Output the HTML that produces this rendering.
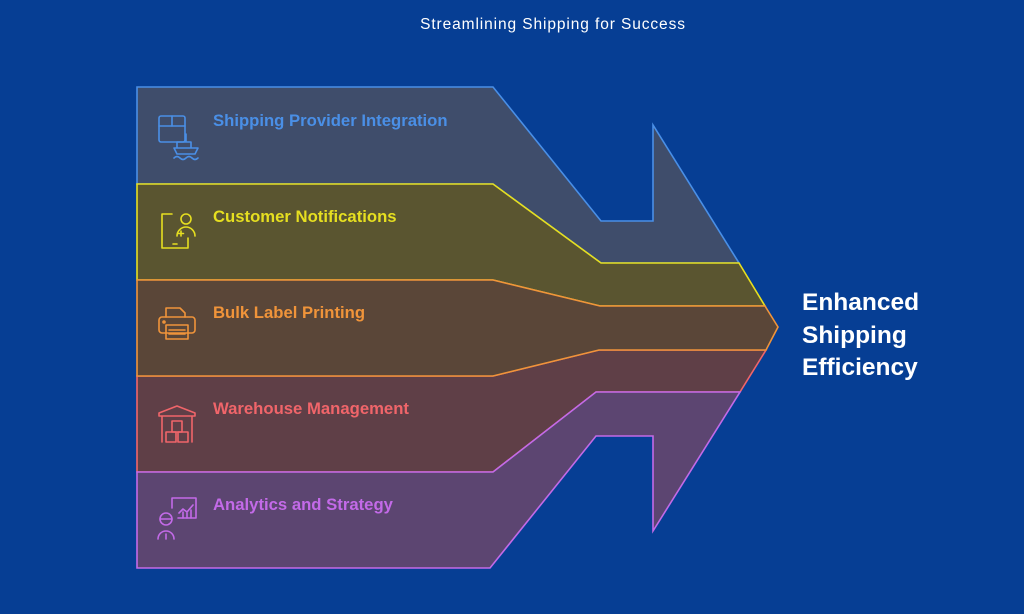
<!DOCTYPE html>
<html><head><meta charset="utf-8"><style>
html,body{margin:0;padding:0;background:#063e94;}
body{width:1024px;height:614px;overflow:hidden;font-family:"Liberation Sans",sans-serif;}
</style></head><body>
<svg width="1024" height="614" viewBox="0 0 1024 614" xmlns="http://www.w3.org/2000/svg" style="display:block">
<rect width="1024" height="614" fill="#063e94"/>
<text x="553" y="29" text-anchor="middle" fill="#fff" font-size="15.5" letter-spacing="0.9" font-family="Liberation Sans, sans-serif">Streamlining Shipping for Success</text>
<g stroke-width="1.6" stroke-linejoin="miter">
<polygon points="137,87 493,87 601,221 653,221 653,125 739,263 601,263 493,184 137,184" fill="#3f4d6b" stroke="#4a8fe6"/>
<polygon points="137,184 493,184 601,263 739,263 765,306 600,306 493,280 137,280" fill="#5a5530" stroke="#e6df20"/>
<polygon points="137,376 493,376 599,350 766,350 740,392 596,392 493,472 137,472" fill="#5f3f47" stroke="#f0656a"/>
<polygon points="137,472 493,472 596,392 740,392 653,531 653,436 596,436 490,568 137,568" fill="#5c4571" stroke="#c36ae8"/>
<polygon points="137,280 493,280 600,306 765,306 778,327 766,350 599,350 493,376 137,376" fill="#5a4638" stroke="#f0943a"/>
</g>
<g font-family="Liberation Sans, sans-serif" font-weight="bold" font-size="16.7">
<text x="213" y="126" fill="#4a8fe6">Shipping Provider Integration</text>
<text x="213" y="222" fill="#e6df20">Customer Notifications</text>
<text x="213" y="318" fill="#f0943a">Bulk Label Printing</text>
<text x="213" y="414" fill="#f0656a">Warehouse Management</text>
<text x="213" y="510" fill="#c36ae8">Analytics and Strategy</text>
</g>
<g font-family="Liberation Sans, sans-serif" font-weight="bold" font-size="24.5" fill="#fff">
<text x="802" y="310">Enhanced</text>
<text x="802" y="343">Shipping</text>
<text x="802" y="375">Efficiency</text>
</g>
<g fill="none" stroke-width="1.6" stroke-linecap="round" stroke-linejoin="round">
<g stroke="#4a8fe6">
<rect x="159" y="116" width="26" height="26" rx="2"/><line x1="159" y1="126" x2="185" y2="126"/><line x1="172" y1="116" x2="172" y2="126"/>
<path d="M174 148 h24 l-3 6 h-18 z M177 148 v-6 h14 v6 M186 142 v-8 M174 158 q3 -3 6 0 q3 3 6 0 q3 -3 6 0 q3 3 6 0"/>
</g>
<g stroke="#e6df20">
<path d="M172 214 h-10 v34 h26 v-10 M173 244 h4"/>
<circle cx="186" cy="219" r="5"/><path d="M177 236 a9 9 0 0 1 18 0"/><path d="M181 231 v5 M178.5 233.5 h5"/>
</g>
<g stroke="#f0943a">
<path d="M166 317 v-9 h14 l5 5 v4"/><rect x="159" y="317" width="36" height="16" rx="3"/><rect x="166" y="325" width="22" height="14"/><line x1="169" y1="330" x2="185" y2="330"/><line x1="169" y1="334" x2="185" y2="334"/><circle cx="164" cy="322" r="1"/>
</g>
<g stroke="#f0656a">
<path d="M159 413 l18 -7 l18 7 v3 h-36 z M162 416 v26 M192 416 v26"/>
<rect x="166" y="432" width="10" height="10"/><rect x="178" y="432" width="10" height="10"/><rect x="172" y="421" width="10" height="11"/>
</g>
<g stroke="#c36ae8">
<path d="M172 508 v-10 h24 v20 h-18"/><path d="M179 513 l4 -4 l4 3 l6 -7 M183 518 v-6 M187 518 v-5 M191 518 v-8"/>
<circle cx="166" cy="519" r="6"/><line x1="160" y1="519" x2="172" y2="519"/><path d="M158 539 a8 8 0 0 1 16 0 M166 534 v5"/>
</g>
</g>
</svg>
</body></html>
